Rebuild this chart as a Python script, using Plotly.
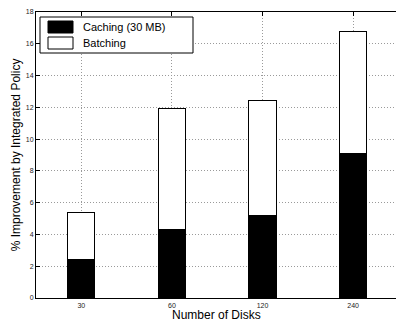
import plotly.graph_objects as go

categories = ["30", "60", "120", "240"]
caching = [2.4, 4.3, 5.2, 9.1]
batching = [3.0, 7.6, 7.2, 7.7]
series_names = ["Caching (30 MB)", "Batching"]
series_colors = ["#000000", "#ffffff"]
yticks = [0, 2, 4, 6, 8, 10, 12, 14, 16, 18]

xpos = [i + 1 for i in range(len(categories))]
FONT = "Liberation Sans, Arial, Helvetica, sans-serif"

fig = go.Figure()
for name, vals, col in zip(series_names, [caching, batching], series_colors):
    fig.add_trace(go.Bar(
        x=xpos, y=vals, name=name, width=0.3,
        marker=dict(color=col, line=dict(color="#000000", width=1)),
        showlegend=False,
    ))

# MATLAB-style legend box drawn in paper coordinates
W, H = 396, 322
ml, mt, mb, mr = 36, 12, 24, 0
pw, ph = W - ml - mr, H - mt - mb
def px(x): return (x - ml) / pw
def py(y): return 1 - (y - mt) / ph

fig.add_shape(type="rect", xref="paper", yref="paper",
              x0=px(40), x1=px(193), y0=py(53), y1=py(17),
              line=dict(color="#000000", width=1), fillcolor="#ffffff", layer="above")
for i, (name, col) in enumerate(zip(series_names, series_colors)):
    yc = 27 + i * 16
    fig.add_shape(type="rect", xref="paper", yref="paper",
                  x0=px(48), x1=px(73), y0=py(yc + 6), y1=py(yc - 6),
                  line=dict(color="#000000", width=1), fillcolor=col, layer="above")
    fig.add_annotation(xref="paper", yref="paper", x=px(81), y=py(yc),
                       text=name, showarrow=False, xanchor="left", yanchor="middle",
                       font=dict(family=FONT, size=11, color="#000000"))

# x-axis title placed as annotation below tick labels
fig.add_annotation(xref="paper", yref="paper", x=0.5, y=py(315),
                   text="Number of Disks", showarrow=False,
                   xanchor="center", yanchor="middle",
                   font=dict(family=FONT, size=12, color="#000000"))

grid = dict(showgrid=True, gridcolor="#9a9a9a", griddash="1px,2px", gridwidth=1)

fig.update_layout(
    width=W, height=H,
    margin=dict(l=ml, r=mr, t=mt, b=mb, pad=0),
    barmode="stack",
    plot_bgcolor="#ffffff", paper_bgcolor="#ffffff",
    font=dict(family=FONT, color="#000000"),
    showlegend=False,
    xaxis=dict(
        range=[0.5, 0.5 + pw / 90.6],
        tickmode="array", tickvals=xpos, ticktext=categories,
        tickfont=dict(size=7, color="#222222"),
        ticks="inside", ticklen=4, tickcolor="#000000",
        ticklabelstandoff=1,
        showline=True, linecolor="#000000", linewidth=1, mirror="ticks",
        zeroline=False,
        **grid,
    ),
    yaxis=dict(
        range=[0, 18],
        tickmode="array", tickvals=yticks,
        tickfont=dict(size=7, color="#222222"),
        ticks="inside", ticklen=4, tickcolor="#000000",
        showline=True, linecolor="#000000", linewidth=1, mirror=False,
        zeroline=False,
        title=dict(text="% Improvement by Integrated Policy", font=dict(size=12), standoff=2),
        **grid,
    ),
)

fig.write_html("out.html")
